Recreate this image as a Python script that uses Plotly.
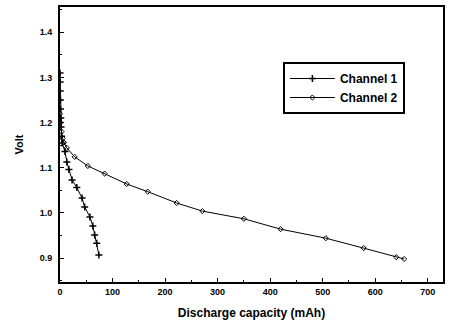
import plotly.graph_objects as go

ch1_x = [0, 0.3, 0.5, 0.8, 1.0, 1.5, 2.0, 3.0, 4.0, 9.5, 13, 17, 23, 32, 42, 47, 57, 62.5, 66, 70, 74]
ch1_y = [1.31, 1.29, 1.27, 1.25, 1.23, 1.21, 1.19, 1.17, 1.155, 1.136, 1.113, 1.096, 1.073, 1.056,
         1.033, 1.013, 0.991, 0.971, 0.951, 0.933, 0.907]

ch2_x = [0, 1, 3, 5, 7.6, 13, 28, 53, 85, 127, 167, 222, 271, 350, 420, 506, 578, 640, 655]
ch2_y = [1.22, 1.20, 1.18, 1.165, 1.156, 1.144, 1.124, 1.104, 1.087, 1.064, 1.047, 1.022, 1.004,
         0.987, 0.964, 0.944, 0.922, 0.902, 0.898]

x_ticks = [0, 100, 200, 300, 400, 500, 600, 700]
y_ticks = [0.9, 1.0, 1.1, 1.2, 1.3, 1.4]

FONT = "Liberation Sans, Arial, sans-serif"

fig = go.Figure()
fig.add_trace(go.Scatter(x=ch1_x, y=ch1_y, mode="lines+markers", name="Channel 1",
                         line=dict(color="black", width=1),
                         marker=dict(symbol="cross-thin", size=5, color="black",
                                     line=dict(color="black", width=1.5))))
fig.add_trace(go.Scatter(x=ch2_x, y=ch2_y, mode="lines+markers", name="Channel 2",
                         line=dict(color="black", width=1),
                         marker=dict(symbol="diamond-open", size=4, color="black",
                                     line=dict(color="black", width=1))))

fig.update_layout(
    width=449, height=324,
    margin=dict(l=60, r=4, t=7, b=42),
    paper_bgcolor="white", plot_bgcolor="white",
    font=dict(family=FONT, color="black", size=9),
    showlegend=True,
    legend=dict(x=0.582, y=0.80, xanchor="left", yanchor="top",
                bordercolor="black", borderwidth=2, bgcolor="white",
                font=dict(size=12, weight="bold"), tracegroupgap=0, itemwidth=45),
    xaxis=dict(range=[0, 729], tickvals=x_ticks, ticktext=[str(v) for v in x_ticks],
               ticks="inside", ticklen=4, tickwidth=1, tickcolor="black",
               minor=dict(dtick=50, ticks="inside", ticklen=2, tickcolor="black"),
               showline=True, linecolor="black", linewidth=2, mirror=True,
               showgrid=False, zeroline=False,
               title=dict(text="Discharge capacity (mAh)", font=dict(size=12, weight="bold"), standoff=13),
               tickfont=dict(size=9, weight="bold")),
    yaxis=dict(range=[0.847, 1.456], tickvals=y_ticks, ticktext=[f"{v:.1f}" for v in y_ticks],
               ticks="inside", ticklen=4, tickwidth=1, tickcolor="black",
               minor=dict(dtick=0.05, ticks="inside", ticklen=2, tickcolor="black"),
               showline=True, linecolor="black", linewidth=2, mirror=True,
               showgrid=False, zeroline=False, ticklabelstandoff=4,
               title=dict(text="Volt", font=dict(size=11, weight="bold"), standoff=14),
               tickfont=dict(size=9, weight="bold")),
)

fig.write_html("out.html", config={"displayModeBar": False},
               post_script="document.body.style.margin='0';")
